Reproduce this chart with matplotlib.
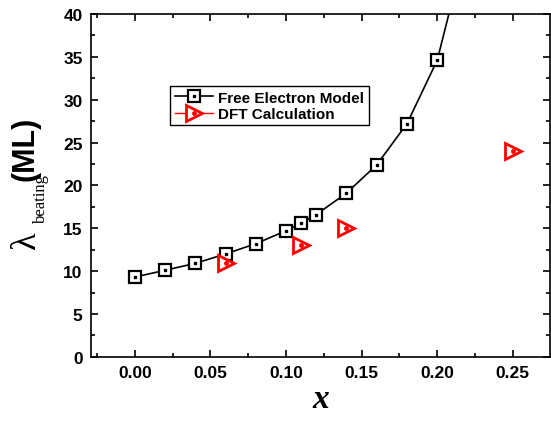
import numpy as np
import matplotlib
import matplotlib.pyplot as plt
from matplotlib.lines import Line2D
from matplotlib.legend_handler import HandlerTuple
from matplotlib.ticker import MultipleLocator

plt.rcParams["font.family"] = ["Liberation Sans", "DejaVu Sans"]

# free electron model
fe_x = [0.00, 0.02, 0.04, 0.06, 0.08, 0.10, 0.11, 0.12, 0.14, 0.16, 0.18, 0.20, 0.22]
fe_y = [9.3, 10.1, 10.9, 12.0, 13.2, 14.7, 15.6, 16.6, 19.1, 22.4, 27.2, 34.6, 48.6]

# DFT calculation
dft_x = [0.06, 0.11, 0.14, 0.25]
dft_y = [11.0, 13.0, 15.0, 24.0]

x_ticks = [0.00, 0.05, 0.10, 0.15, 0.20, 0.25]
y_ticks = [0, 5, 10, 15, 20, 25, 30, 35, 40]

W, H = 551, 427
fig = plt.figure(figsize=(W / 100, H / 100), dpi=100)
ax = fig.add_axes([0.165, 0.162, 0.833, 0.803])

sq = dict(marker="s", markersize=8.3, markerfacecolor="white",
          markeredgecolor="black", markeredgewidth=1.6)
ax.plot(fe_x, fe_y, color="black", lw=1.2, **sq)
ax.plot(fe_x, fe_y, ls="none", marker="s", markersize=2, color="black")

tri = dict(marker=">", markersize=11.5, markerfacecolor="white",
           markeredgecolor="red", markeredgewidth=2.0)
ax.plot(dft_x, dft_y, ls="none", **tri)
ax.plot(dft_x, dft_y, ls="none", marker="o", markersize=2.5, color="red")

ax.set_xlim(-0.029, 0.2745)
ax.set_ylim(0, 40)
ax.set_xticks(x_ticks)
ax.set_xticklabels(["%.2f" % v for v in x_ticks])
ax.set_yticks(y_ticks)
ax.xaxis.set_minor_locator(MultipleLocator(0.025))
ax.yaxis.set_minor_locator(MultipleLocator(2.5))
ax.tick_params(which="both", direction="in", top=True, right=True, width=1.2)
ax.tick_params(which="major", length=5, labelsize=12.5, pad=6)
ax.tick_params(which="minor", length=3)
for lab in ax.get_xticklabels() + ax.get_yticklabels():
    lab.set_fontweight("bold")
for s in ax.spines.values():
    s.set_linewidth(1.2)

ax.set_xlabel("x", family="Liberation Serif", style="italic",
              weight="bold", fontsize=24, labelpad=2)

# y label built from pieces: lambda, subscript, (ML)
ylab = dict(rotation=90, rotation_mode="anchor", ha="left", va="baseline")
fig.text(35 / W, 1 - 249 / H, "λ", family="Liberation Serif",
         fontsize=26, **ylab)
fig.text(45 / W, 1 - 223 / H, "beating", family="Liberation Serif",
         fontsize=12, **ylab)
fig.text(33 / W, 1 - 181 / H, "(ML)", weight="bold", fontsize=22, **ylab)

# legend proxies
h1 = (Line2D([], [], color="black", lw=1.2, **sq),
      Line2D([], [], ls="none", marker="s", markersize=2, color="black"))
h2 = (Line2D([], [], color="red", lw=1.0, **tri),
      Line2D([], [], ls="none", marker="o", markersize=2.5, color="red"))
leg = ax.legend([h1, h2], ["Free Electron Model", "DFT Calculation"],
                handler_map={tuple: HandlerTuple(ndivide=1, pad=0)},
                loc="upper left", bbox_to_anchor=(170 / W, 1 - 87 / H),
                bbox_transform=fig.transFigure, borderaxespad=0,
                prop={"weight": "bold", "size": 11}, fancybox=False,
                edgecolor="black", framealpha=1, handlelength=2.5,
                handletextpad=0.35, borderpad=0.3, labelspacing=0.15)
leg.get_frame().set_linewidth(1.0)

fig.savefig("out.png", dpi=100)
